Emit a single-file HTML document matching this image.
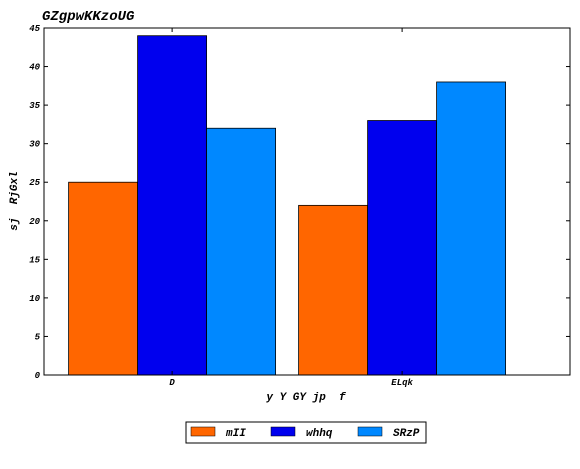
<!DOCTYPE html>
<html><head><meta charset="utf-8"><style>
body{margin:0;background:#fff;width:580px;height:464px;overflow:hidden}
text{font-family:"Liberation Mono",monospace;font-style:italic;font-weight:bold;white-space:pre}
</style></head><body>
<svg id="chart" width="580" height="464" xml:space="preserve">
<text x="42" y="20" font-size="14">GZgpwKKzoUG</text>
<g id="bars"></g>
<rect x="44" y="28" width="526" height="347" fill="none" stroke="#000" stroke-width="1"/>
<g id="axes"></g>
<text x="306" y="400" font-size="11" text-anchor="middle">y Y GY jp  f</text>
<text transform="translate(17,201) rotate(-90)" font-size="11" text-anchor="middle">sj  RjGxl</text>
<g>
<rect x="186" y="422" width="240" height="21" fill="#fff" stroke="#000"/>
<g><rect x="191" y="427" width="24" height="9" fill="#ff6600" stroke="#000" stroke-width="0.5"/><text x="226" y="436" font-size="11">mII</text></g>
<g><rect x="271" y="427" width="24" height="9" fill="#0000ee" stroke="#000" stroke-width="0.5"/><text x="306" y="436" font-size="11">whhq</text></g>
<g><rect x="358" y="427" width="24" height="9" fill="#0088ff" stroke="#000" stroke-width="0.5"/><text x="393" y="436" font-size="11">SRzP</text></g>
</g>
</svg>
<script>
const categories=["D","ELqk"];
const seriesNames=["mII","whhq","SRzP"];
const seriesMII=[25,22];
const seriesWHHQ=[44,33];
const seriesSRZP=[32,38];
const yTicks=[0,5,10,15,20,25,30,35,40,45];
const colors=["#ff6600","#0000ee","#0088ff"];
const NS="http://www.w3.org/2000/svg";
const X0=44,X1=570,Y0=375,Y1=28,xmin=-0.557,xmax=1.73,ymax=45,bw=0.3;
const xs=v=>X0+(v-xmin)/(xmax-xmin)*(X1-X0);
const ys=v=>Y0-v/ymax*(Y0-Y1);
const bars=document.getElementById('bars'),axes=document.getElementById('axes');
const all=[seriesMII,seriesWHHQ,seriesSRZP];
all.forEach((s,si)=>s.forEach((v,ci)=>{
 const r=document.createElementNS(NS,'rect');
 const l=xs(ci+(si-1.5)*bw),rr=xs(ci+(si-0.5)*bw);
 r.setAttribute('x',l);r.setAttribute('y',ys(v));
 r.setAttribute('width',rr-l);r.setAttribute('height',ys(0)-ys(v));
 r.setAttribute('fill',colors[si]);r.setAttribute('stroke','#000');r.setAttribute('stroke-width','0.8');
 
 
 bars.appendChild(r);
}));
yTicks.forEach(t=>{
 const y=ys(t);
 const tx=document.createElementNS(NS,'text');
 tx.setAttribute('x',40);tx.setAttribute('y',y+3);tx.setAttribute('font-size','9');tx.setAttribute('text-anchor','end');
 tx.textContent=t;
 
 
 axes.appendChild(tx);
 [[X0,X0+4],[X1,X1-4]].forEach(([a,b])=>{const ln=document.createElementNS(NS,'line');ln.setAttribute('x1',a);ln.setAttribute('x2',b);ln.setAttribute('y1',y);ln.setAttribute('y2',y);ln.setAttribute('stroke','#000');
 
 
 axes.appendChild(ln);});
});
categories.forEach((c,i)=>{
 const x=xs(i);
 const tx=document.createElementNS(NS,'text');
 tx.setAttribute('x',x);tx.setAttribute('y',385);tx.setAttribute('font-size','9');tx.setAttribute('text-anchor','middle');
 tx.textContent=c;
 
 
 axes.appendChild(tx);
 [[Y0,Y0-4],[Y1,Y1+4]].forEach(([a,b])=>{const ln=document.createElementNS(NS,'line');ln.setAttribute('x1',x);ln.setAttribute('x2',x);ln.setAttribute('y1',a);ln.setAttribute('y2',b);ln.setAttribute('stroke','#000');
 
 
 axes.appendChild(ln);});
});
</script>
</body></html>
